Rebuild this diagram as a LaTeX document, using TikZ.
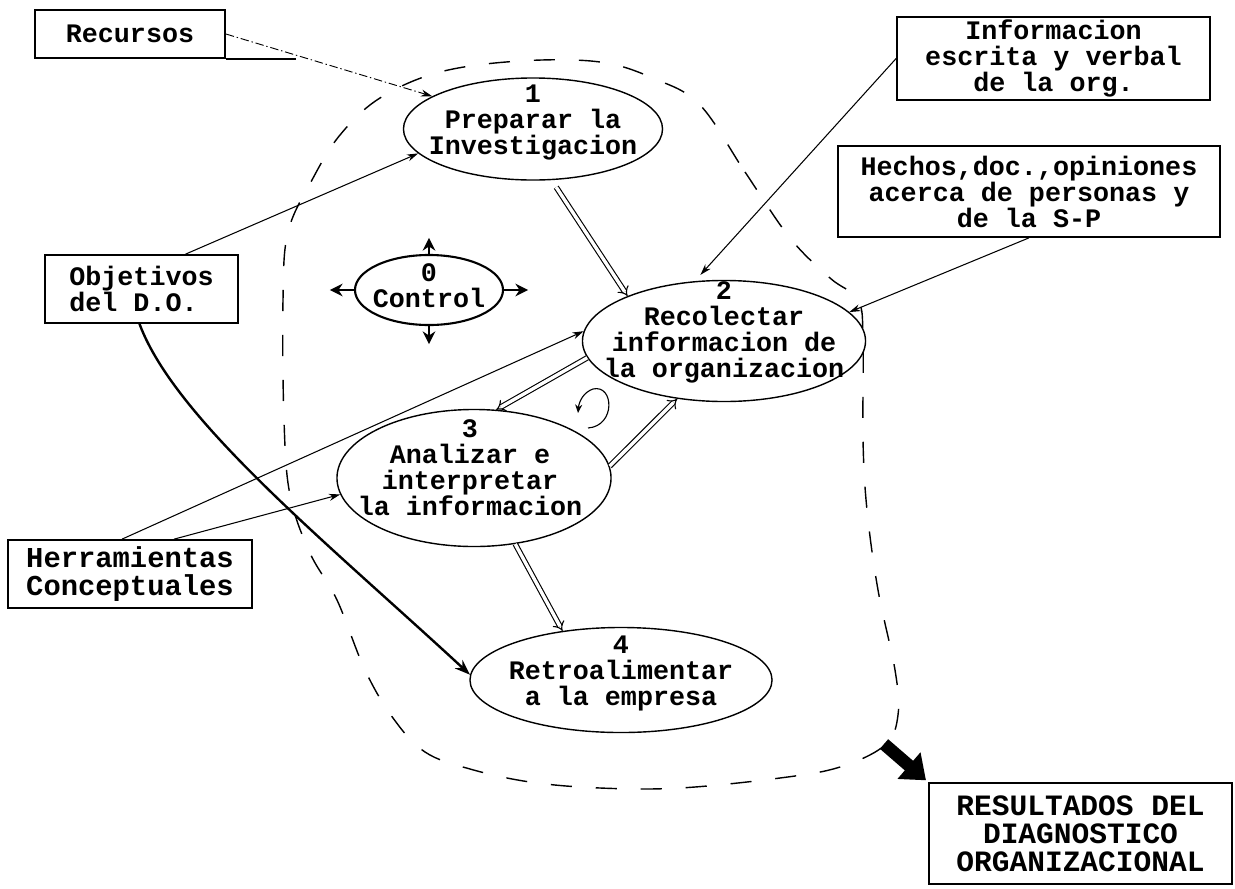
\documentclass[tikz,border=0pt]{standalone}
\usepackage{fontspec}
\setmonofont{Liberation Mono}
\usetikzlibrary{shapes.geometric,arrows.meta,calc}

\begin{document}
\begin{tikzpicture}[x=0.025cm,y=-0.025cm,
  txt/.style={font=\ttfamily\bfseries\fontsize{19}{18.5}\selectfont, align=center, inner sep=0pt},
  bigtxt/.style={txt, font=\ttfamily\bfseries\fontsize{21}{20}\selectfont},
  box/.style={draw, line width=1.2pt, inner sep=0pt},
  proc/.style={draw, ellipse, line width=1pt, inner sep=0pt},
  feed/.style={line width=0.75pt, -{Stealth[length=8pt,width=5pt]}},
  heavy/.style={line width=1.7pt, -{Stealth[length=11pt,width=8pt,open]}},
  flow/.style={double, double distance=2.4pt, line width=0.8pt, -{Implies}},
  ctrlarr/.style={line width=1.6pt, -{Stealth[length=9pt,width=9pt]}},
  bound/.style={line width=1pt, dash pattern=on 15pt off 17pt},
  resarrow/.style={line width=9pt, -{Triangle[length=16pt,width=24pt]}}]

\useasboundingbox (0,0) rectangle (1235,888);

% outer dashed boundary of the diagnosis process
\draw[bound] plot[smooth cycle, tension=0.6] coordinates {
  (700,105) (745,172) (790,238) (830,278) (858,300) (863,340) (863,440)
  (867,510) (878,590) (895,670) (898,715) (885,745) (840,767) (780,778)
  (680,788) (600,788) (530,782) (470,769) (425,752) (393,718) (365,670)
  (337,600) (310,553) (290,495) (284,420) (283,300) (288,232) (312,180)
  (340,135) (380,98) (440,72) (520,61) (600,62) (655,79)};

% input and output boxes
\node[box, txt, minimum width=4.75cm, minimum height=1.2cm] (rec) at (130,34) {Recursos};
\node[box, txt, minimum width=7.825cm, minimum height=2.075cm] (info) at (1053.5,58.5)
  {Informacion\\escrita y verbal\\de la org.};
\node[box, txt, minimum width=9.55cm, minimum height=2.275cm] (hech) at (1029,191.5)
  {Hechos,doc.,opiniones\\acerca de personas y\\de la S-P};
\node[box, txt, align=left, minimum width=4.825cm, minimum height=1.7cm] (obj) at (141.5,289)
  {Objetivos\\del D.O.};
\node[box, txt, font=\ttfamily\bfseries\fontsize{20.5}{19.5}\selectfont, align=left,
  minimum width=6.1cm, minimum height=1.7cm] (herr) at (130,574)
  {Herramientas\\Conceptuales};
\node[box, bigtxt, minimum width=7.575cm, minimum height=2.525cm] (res) at (1080.5,833.5)
  {RESULTADOS DEL\\DIAGNOSTICO\\ORGANIZACIONAL};

% process ellipses
\node[proc, minimum width=6.475cm, minimum height=2.55cm] (e1) at (533,129) {};
\node[txt] (e1t) at (533,123) {1\\Preparar la\\Investigacion};
\node[proc, minimum width=7.075cm, minimum height=3.025cm] (e2) at (724,341) {};
\node[txt] (e2t) at (724,332) {2\\Recolectar\\informacion de\\la organizacion};
\node[proc, minimum width=6.85cm, minimum height=3.425cm] (e3) at (474,478) {};
\node[txt] (e3t) at (470,468) {3\\Analizar e\\interpretar\\la informacion};
\node[proc, minimum width=7.55cm, minimum height=2.625cm] (e4) at (621,680) {};
\node[txt] (e4t) at (621,673) {4\\Retroalimentar\\a la empresa};

% control ellipse with its four outward arrows
\node[proc, line width=1.5pt, minimum width=3.7cm, minimum height=1.75cm] (ctl) at (429,290) {};
\node[txt] (ctlt) at (429,286) {0\\Control};
\draw[ctrlarr] (ctl.north) -- ++(0,-16);
\draw[ctrlarr] (ctl.south) -- ++(0,18);
\draw[ctrlarr] (ctl.west) -- ++(-24,0);
\draw[ctrlarr] (ctl.east) -- ++(24,0);

% inputs
\draw[feed, dash pattern=on 6pt off 2pt on 1pt off 2pt, line width=0.65pt] (rec.east) -- (e1.162);
\draw[line width=1.2pt] (rec.south east) -- ++(70,0);
\draw[feed] ([xshift=1.1cm]obj.north) -- (e1.192);
\draw[feed, shorten >=6pt] (info.west) -- (e2.116);
\draw[feed] (hech.south) -- (e2.13);
\draw[feed] ([xshift=-0.2cm]herr.north) -- (e2.176);
\draw[feed] ([xshift=1.1cm]herr.north) -- (e3.187);
\draw[heavy] ([xshift=-0.05cm]obj.south) .. controls (175,420) and (330,545) .. (e4.178);

% flow between the steps
\draw[flow, shorten <=6pt] (e1.290) -- (e2.155);
\draw[flow] (e2.187) -- (e3.72);
\draw[flow] (e3.5) -- (e2.231);
\draw[flow] (e3.-58) -- (e4.140);

% iteration loop between steps 2 and 3
\draw[line width=0.8pt, -{Stealth[length=6pt,width=5pt]}]
  (588,428) .. controls (616,426) and (614,384) .. (593,389)
  .. controls (584,392) and (579,401) .. (578,413);

% result arrow
\coordinate (fatstart) at (884,744);
\draw[resarrow, shorten >=2pt] (fatstart) -- (res.north west);

\end{tikzpicture}
\end{document}
